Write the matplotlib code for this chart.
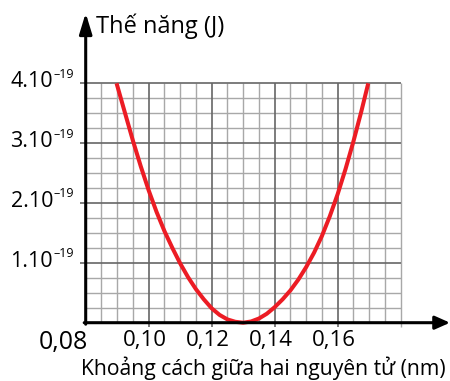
import numpy as np
import matplotlib
matplotlib.use("Agg")
import matplotlib.pyplot as plt

plt.rcParams['font.family'] = ['Open Sans', 'DejaVu Sans']

# khoang cach giua hai nguyen tu (nm) va the nang (don vi 1e-19 J), doc tu hinh
r_nm = [0.0898, 0.0925, 0.0950, 0.0975, 0.1000, 0.1025, 0.1050, 0.1075, 0.1100,
        0.1125, 0.1150, 0.1175, 0.1200, 0.1225, 0.1250, 0.1275, 0.1300, 0.1325,
        0.1350, 0.1375, 0.1400, 0.1425, 0.1450, 0.1475, 0.1500, 0.1525, 0.1550,
        0.1575, 0.1600, 0.1625, 0.1650, 0.1675, 0.1697]
the_nang = [4.00, 3.50, 3.04, 2.61, 2.21, 1.85, 1.53, 1.25, 0.99,
            0.76, 0.56, 0.39, 0.24, 0.13, 0.055, 0.015, 0.0, 0.02,
            0.07, 0.15, 0.26, 0.39, 0.54, 0.72, 0.93, 1.17, 1.45,
            1.78, 2.15, 2.57, 3.03, 3.53, 4.00]

x_ticks = [0.08, 0.10, 0.12, 0.14, 0.16]
x_labels = ['0,08', '0,10', '0,12', '0,14', '0,16']
y_ticks = [1, 2, 3, 4]
y_labels = ['1.10', '2.10', '3.10', '4.10']
y_exp = '\u201319'

x_min, x_max = 0.08, 0.18
y_min, y_max = 0.0, 4.0

# pixel scale of the reference
sx = 3150.0   # px per nm
sy = 59.85    # px per 1e-19 J
x0_px, y0_px = 85.7, 322.7


def px_x(p):
    return x_min + (p - x0_px) / sx


def px_y(p):
    return y_min + (y0_px - p) / sy


fig = plt.figure(figsize=(4.5, 3.81), dpi=100)
ax = fig.add_axes([0, 0, 1, 1])
ax.set_xlim(px_x(0), px_x(450))
ax.set_ylim(px_y(381), px_y(0))
ax.axis('off')

minor_c = '#a8a8a8'
major_c = '#666666'

# grid
for gx in np.arange(x_min + 0.005, x_max + 1e-9, 0.005):
    major = any(abs(gx - t) < 1e-9 for t in x_ticks)
    end = abs(gx - x_max) < 1e-9
    ax.plot([gx, gx], [px_y(y0_px + 4) if (major or end) else y_min, y_max],
            color=major_c if major else minor_c, lw=1.2 if major else 1.0,
            zorder=2 if major else 1, solid_capstyle='butt')
for gy in np.arange(y_min + 0.25, y_max + 1e-9, 0.25):
    major = any(abs(gy - t) < 1e-9 for t in y_ticks)
    ax.plot([px_x(x0_px - 6) if major else x_min, x_max], [gy, gy],
            color=major_c if major else minor_c, lw=1.2 if major else 1.0,
            zorder=2 if major else 1, solid_capstyle='butt')

# curve
ax.plot(r_nm, the_nang, color='#ec1c24', lw=2.9, zorder=4,
        solid_capstyle='butt', solid_joinstyle='round')

# axes with arrows
ax.annotate('', xy=(x_min, px_y(13)), xytext=(x_min, px_y(y0_px + 1.5)),
            arrowprops=dict(arrowstyle='-|>,head_length=1.25,head_width=0.38',
                            mutation_scale=10, lw=2.2, color='black',
                            shrinkA=0, shrinkB=0), zorder=6)
ax.annotate('', xy=(px_x(450), y_min), xytext=(px_x(x0_px - 1.5), y_min),
            arrowprops=dict(arrowstyle='-|>,head_length=0.9,head_width=0.4',
                            mutation_scale=10, lw=2.2, color='black',
                            shrinkA=0, shrinkB=0), zorder=6)

# tick labels
for t, lab in zip(x_ticks, x_labels):
    if t == x_min:
        ax.text(px_x(63), px_y(343), lab, fontsize=18, ha='center', va='center')
    else:
        ax.text(t - 3.5 / sx, px_y(340.5), lab, fontsize=16, ha='center', va='center')

for t, lab in zip(y_ticks, y_labels):
    ax.text(px_x(53), t + 1.8 / sy, lab, fontsize=15.5, ha='right', va='center')
    ax.text(px_x(53), t + 9 / sy, y_exp, fontsize=9, ha='left', va='center')

# axis titles
ax.text(px_x(96), px_y(26), 'Thế năng (J)', fontsize=17, ha='left', va='center')
ax.text(px_x(81), px_y(368), 'Khoảng cách giữa hai nguyên tử (nm)', fontsize=15.2,
        ha='left', va='center')

fig.savefig('out.png', dpi=100)
